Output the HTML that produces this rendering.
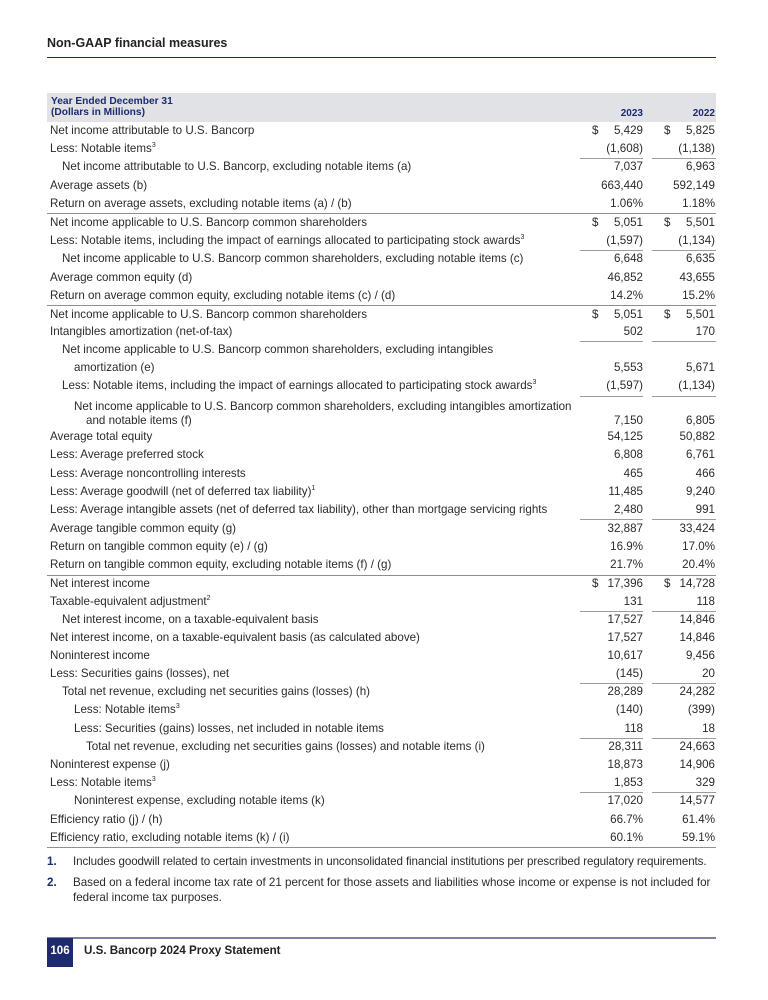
<!DOCTYPE html>
<html><head><meta charset="utf-8"><style>
body{margin:0;width:768px;height:1000px;background:#fff;position:relative;font-family:"Liberation Sans",sans-serif;color:#2b2b2b;overflow:hidden}
.a{position:absolute}
.r{position:absolute;left:50px;width:666px;height:18px;font-size:11.6px;line-height:18px;white-space:nowrap}
.r .l{position:absolute;left:0}
.r .n1{position:absolute;right:73px}
.r .n2{position:absolute;right:1px}
.r .d1{position:absolute;left:542px}
.r .d2{position:absolute;left:614px}
.i1 .l{left:12px}.i2 .l{left:24px}.i3 .l{left:36px}
.u{position:absolute;height:1px;background:#9a9ca3}
.u1{left:580px;width:63px}.u2{left:652px;width:64px}
.hl{position:absolute;left:47px;width:669px;height:1px;background:#8c8f99}
sup{font-size:7px;line-height:0}
</style></head><body>
<div class="a" style="left:47px;top:36px;font-size:12.5px;font-weight:bold;color:#222">Non-GAAP financial measures</div>
<div class="a" style="left:47px;top:57px;width:669px;height:1px;background:#1d2a6e"></div>
<div class="a" style="left:47px;top:93px;width:669px;height:29px;background:#e1e2e6"></div>
<div class="a" style="left:51px;top:97px;font-size:10.2px;font-weight:bold;color:#1d2a6e;line-height:10.5px">Year Ended December 31<br>(Dollars in Millions)</div>
<div class="a" style="left:600px;top:108px;width:43px;text-align:right;font-size:10px;font-weight:bold;color:#1d2a6e">2023</div>
<div class="a" style="left:672px;top:108px;width:43px;text-align:right;font-size:10px;font-weight:bold;color:#1d2a6e">2022</div>

<div class="r" style="top:122px"><span class="l">Net income attributable to U.S. Bancorp</span><span class="d1">$</span><span class="n1">5,429</span><span class="d2">$</span><span class="n2">5,825</span></div>
<div class="r" style="top:140px"><span class="l">Less: Notable items<sup>3</sup></span><span class="n1">(1,608)</span><span class="n2">(1,138)</span></div>
<div class="u u1" style="top:158px"></div><div class="u u2" style="top:158px"></div>
<div class="r i1" style="top:158px"><span class="l">Net income attributable to U.S. Bancorp, excluding notable items (a)</span><span class="n1">7,037</span><span class="n2">6,963</span></div>
<div class="r" style="top:177px"><span class="l">Average assets (b)</span><span class="n1">663,440</span><span class="n2">592,149</span></div>
<div class="r" style="top:195px"><span class="l">Return on average assets, excluding notable items (a) / (b)</span><span class="n1">1.06%</span><span class="n2">1.18%</span></div>
<div class="hl" style="top:213px"></div>
<div class="r" style="top:214px"><span class="l">Net income applicable to U.S. Bancorp common shareholders</span><span class="d1">$</span><span class="n1">5,051</span><span class="d2">$</span><span class="n2">5,501</span></div>
<div class="r" style="top:232px"><span class="l">Less: Notable items, including the impact of earnings allocated to participating stock awards<sup>3</sup></span><span class="n1">(1,597)</span><span class="n2">(1,134)</span></div>
<div class="u u1" style="top:250px"></div><div class="u u2" style="top:250px"></div>
<div class="r i1" style="top:250px"><span class="l">Net income applicable to U.S. Bancorp common shareholders, excluding notable items (c)</span><span class="n1">6,648</span><span class="n2">6,635</span></div>
<div class="r" style="top:269px"><span class="l">Average common equity (d)</span><span class="n1">46,852</span><span class="n2">43,655</span></div>
<div class="r" style="top:287px"><span class="l">Return on average common equity, excluding notable items (c) / (d)</span><span class="n1">14.2%</span><span class="n2">15.2%</span></div>
<div class="hl" style="top:305px"></div>
<div class="r" style="top:306px"><span class="l">Net income applicable to U.S. Bancorp common shareholders</span><span class="d1">$</span><span class="n1">5,051</span><span class="d2">$</span><span class="n2">5,501</span></div>
<div class="r" style="top:323px"><span class="l">Intangibles amortization (net-of-tax)</span><span class="n1">502</span><span class="n2">170</span></div>
<div class="u u1" style="top:341px"></div><div class="u u2" style="top:341px"></div>
<div class="r i1" style="top:341px"><span class="l">Net income applicable to U.S. Bancorp common shareholders, excluding intangibles</span></div>
<div class="r i2" style="top:359px"><span class="l">amortization (e)</span><span class="n1">5,553</span><span class="n2">5,671</span></div>
<div class="r i1" style="top:377px"><span class="l">Less: Notable items, including the impact of earnings allocated to participating stock awards<sup>3</sup></span><span class="n1">(1,597)</span><span class="n2">(1,134)</span></div>
<div class="u u1" style="top:396px"></div><div class="u u2" style="top:396px"></div>
<div class="r i2" style="top:398px"><span class="l">Net income applicable to U.S. Bancorp common shareholders, excluding intangibles amortization</span></div>
<div class="r" style="top:412px"><span class="l" style="left:36px">and notable items (f)</span><span class="n1">7,150</span><span class="n2">6,805</span></div>
<div class="r" style="top:428px"><span class="l">Average total equity</span><span class="n1">54,125</span><span class="n2">50,882</span></div>
<div class="r" style="top:446px"><span class="l">Less: Average preferred stock</span><span class="n1">6,808</span><span class="n2">6,761</span></div>
<div class="r" style="top:465px"><span class="l">Less: Average noncontrolling interests</span><span class="n1">465</span><span class="n2">466</span></div>
<div class="r" style="top:483px"><span class="l">Less: Average goodwill (net of deferred tax liability)<sup>1</sup></span><span class="n1">11,485</span><span class="n2">9,240</span></div>
<div class="r" style="top:501px"><span class="l">Less: Average intangible assets (net of deferred tax liability), other than mortgage servicing rights</span><span class="n1">2,480</span><span class="n2">991</span></div>
<div class="u u1" style="top:519px"></div><div class="u u2" style="top:519px"></div>
<div class="r" style="top:520px"><span class="l">Average tangible common equity (g)</span><span class="n1">32,887</span><span class="n2">33,424</span></div>
<div class="r" style="top:538px"><span class="l">Return on tangible common equity (e) / (g)</span><span class="n1">16.9%</span><span class="n2">17.0%</span></div>
<div class="r" style="top:556px"><span class="l">Return on tangible common equity, excluding notable items (f) / (g)</span><span class="n1">21.7%</span><span class="n2">20.4%</span></div>
<div class="hl" style="top:575px"></div>
<div class="r" style="top:575px"><span class="l">Net interest income</span><span class="d1">$</span><span class="n1">17,396</span><span class="d2">$</span><span class="n2">14,728</span></div>
<div class="r" style="top:593px"><span class="l">Taxable-equivalent adjustment<sup>2</sup></span><span class="n1">131</span><span class="n2">118</span></div>
<div class="u u1" style="top:611px"></div><div class="u u2" style="top:611px"></div>
<div class="r i1" style="top:611px"><span class="l">Net interest income, on a taxable-equivalent basis</span><span class="n1">17,527</span><span class="n2">14,846</span></div>
<div class="r" style="top:629px"><span class="l">Net interest income, on a taxable-equivalent basis (as calculated above)</span><span class="n1">17,527</span><span class="n2">14,846</span></div>
<div class="r" style="top:647px"><span class="l">Noninterest income</span><span class="n1">10,617</span><span class="n2">9,456</span></div>
<div class="r" style="top:665px"><span class="l">Less: Securities gains (losses), net</span><span class="n1">(145)</span><span class="n2">20</span></div>
<div class="u u1" style="top:683px"></div><div class="u u2" style="top:683px"></div>
<div class="r i1" style="top:683px"><span class="l">Total net revenue, excluding net securities gains (losses) (h)</span><span class="n1">28,289</span><span class="n2">24,282</span></div>
<div class="r i2" style="top:701px"><span class="l">Less: Notable items<sup>3</sup></span><span class="n1">(140)</span><span class="n2">(399)</span></div>
<div class="r i2" style="top:720px"><span class="l">Less: Securities (gains) losses, net included in notable items</span><span class="n1">118</span><span class="n2">18</span></div>
<div class="u u1" style="top:738px"></div><div class="u u2" style="top:738px"></div>
<div class="r i3" style="top:738px"><span class="l">Total net revenue, excluding net securities gains (losses) and notable items (i)</span><span class="n1">28,311</span><span class="n2">24,663</span></div>
<div class="r" style="top:756px"><span class="l">Noninterest expense (j)</span><span class="n1">18,873</span><span class="n2">14,906</span></div>
<div class="r" style="top:774px"><span class="l">Less: Notable items<sup>3</sup></span><span class="n1">1,853</span><span class="n2">329</span></div>
<div class="u u1" style="top:792px"></div><div class="u u2" style="top:792px"></div>
<div class="r i2" style="top:792px"><span class="l">Noninterest expense, excluding notable items (k)</span><span class="n1">17,020</span><span class="n2">14,577</span></div>
<div class="r" style="top:811px"><span class="l">Efficiency ratio (j) / (h)</span><span class="n1">66.7%</span><span class="n2">61.4%</span></div>
<div class="r" style="top:829px"><span class="l">Efficiency ratio, excluding notable items (k) / (i)</span><span class="n1">60.1%</span><span class="n2">59.1%</span></div>
<div class="hl" style="top:847px"></div>

<div class="a" style="left:47px;top:854px;font-size:11.6px;line-height:15px"><b style="color:#1d2a6e">1.</b></div>
<div class="a" style="left:73px;top:854px;font-size:11.6px;line-height:15px;white-space:nowrap;letter-spacing:-0.1px">Includes goodwill related to certain investments in unconsolidated financial institutions per prescribed regulatory requirements.</div>
<div class="a" style="left:47px;top:875px;font-size:11.6px;line-height:15px"><b style="color:#1d2a6e">2.</b></div>
<div class="a" style="left:73px;top:875px;font-size:11.6px;line-height:15px;white-space:nowrap">Based on a federal income tax rate of 21 percent for those assets and liabilities whose income or expense is not included for<br>federal income tax purposes.</div>

<div class="a" style="left:47px;top:937px;width:669px;height:2px;background:#7e8199"></div>
<div class="a" style="left:47px;top:938px;width:26px;height:29px;background:#1d2a6e;color:#fff;font-size:11.5px;font-weight:bold;line-height:27px;text-align:center">106</div>
<div class="a" style="left:84px;top:944px;font-size:11.6px;font-weight:bold;color:#222">U.S. Bancorp 2024 Proxy Statement</div>
</body></html>
